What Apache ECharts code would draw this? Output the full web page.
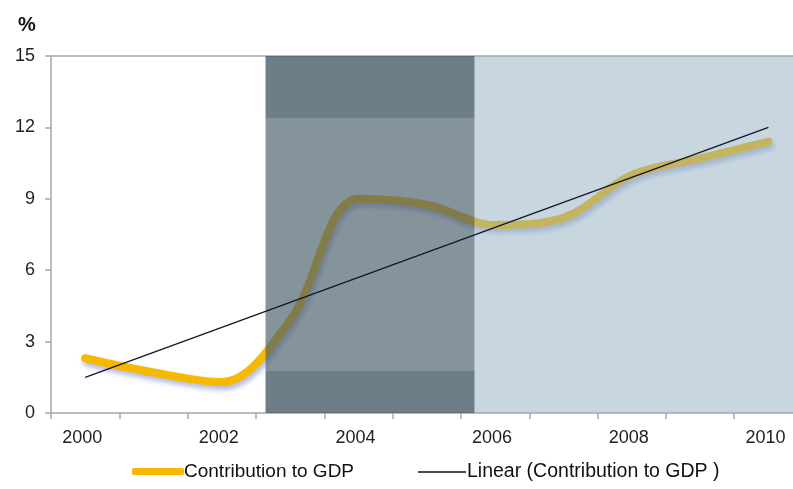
<!DOCTYPE html>
<html>
<head>
<meta charset="utf-8">
<script src="https://cdn.jsdelivr.net/npm/echarts@6/dist/echarts.min.js"></script>
<style>
html,body{margin:0;padding:0;background:#fff;}
#chart{width:793px;height:489px;}
</style>
</head>
<body>
<div id="chart"></div>
<script>
// ---- data ----
const years = ['2000','2001','2002','2003','2004','2005','2006','2007','2008','2009','2010'];
const contribution = [2.3, 1.7, 1.3, 3.9, 9.0, 8.75, 7.9, 8.2, 10.0, 10.7, 11.4];
const trendYears = [2000, 2010];
const trendValues = [1.5, 12.0];
const yTickValues = [0, 3, 6, 9, 12, 15];
const xLabelYears = ['2000', '2002', '2004', '2006', '2008', '2010'];
const seriesNames = ['Contribution to GDP', 'Linear (Contribution to GDP )'];
// shaded periods (in years) and band limits (in %)
const darkPeriod = [2002.64, 2005.70];
const lightPeriod = [2005.70, 2010.5];
const darkBands = [1.76, 12.4];
// visible part of the time axis (the right end of the original chart is cropped)
const xRange = [1999.5, 2010.36];

const FONT = '"Liberation Sans", Arial, sans-serif';
const chart = echarts.init(document.getElementById('chart'), null, {renderer: 'canvas'});

const yMin = yTickValues[0], yMax = yTickValues[yTickValues.length - 1];
const tickValues = years.map(y => +y - 0.5);

const option = {
  animation: false,
  backgroundColor: '#ffffff',
  title: {
    text: '%', left: 13, top: 10,
    textStyle: {fontFamily: FONT, fontSize: 20, fontWeight: 'bold', color: '#111'}
  },
  grid: {left: 51, top: 56, right: 0, bottom: 76, containLabel: false},
  legend: [
    {
      data: [{name: seriesNames[0], icon: 'roundRect', itemStyle: {color: '#f6b900'}}],
      left: 127, top: 457, itemWidth: 52, itemHeight: 7, selectedMode: false,
      textStyle: {fontFamily: FONT, fontSize: 19, color: '#111', padding: [0,0,0,-5]}
    },
    {
      data: [{name: seriesNames[1], icon: 'rect', itemStyle: {color: '#111'}}],
      left: 413, top: 457, itemWidth: 48, itemHeight: 1.4, selectedMode: false,
      textStyle: {fontFamily: FONT, fontSize: 19.5, color: '#111', padding: [0,0,0,-4]}
    }
  ],
  xAxis: [
    {
      type: 'value', min: xRange[0], max: xRange[1], position: 'bottom',
      axisLine: {show: true, onZero: false, lineStyle: {color: '#a8a8a8', width: 1.5}},
      axisTick: {show: true, customValues: tickValues, length: 6, lineStyle: {color: '#a8a8a8', width: 1.5}},
      axisLabel: {customValues: xLabelYears.map(Number), margin: 16, fontFamily: FONT, fontSize: 18, color: '#222',
        padding: [0, 6, 0, 0], formatter: v => String(v)},
      splitLine: {show: false}
    },
    {
      type: 'value', min: xRange[0], max: xRange[1], position: 'top',
      axisLine: {show: true, onZero: false, lineStyle: {color: '#a8a8a8', width: 1.5}},
      axisTick: {show: false}, axisLabel: {show: false}, splitLine: {show: false}
    }
  ],
  yAxis: {
    type: 'value', min: yMin, max: yMax, interval: 3,
    axisLine: {show: true, lineStyle: {color: '#a8a8a8', width: 1.5}},
    axisTick: {show: true, length: 6, lineStyle: {color: '#a8a8a8', width: 1.5}},
    axisLabel: {margin: 16, fontFamily: FONT, fontSize: 18, color: '#222'},
    splitLine: {show: false}
  },
  series: [
    {
      name: seriesNames[0], type: 'line', xAxisIndex: 0, z: 2,
      data: years.map((y, i) => [+y, contribution[i]]),
      smooth: 0.35, symbol: 'none', showSymbol: false,
      lineStyle: {color: '#f6b900', width: 8, cap: 'round', join: 'round',
        shadowColor: 'rgba(40,60,170,0.35)', shadowBlur: 5, shadowOffsetX: 2, shadowOffsetY: 4},
      itemStyle: {color: '#f6b900'}
    },
    {
      name: 'shading', type: 'line', xAxisIndex: 0, z: 5, data: [],
      markArea: {
        silent: true, z: 5,
        data: [
          [{xAxis: darkPeriod[0], yAxis: darkBands[0], itemStyle: {color: 'rgba(75,96,107,0.68)'}},
           {xAxis: darkPeriod[1], yAxis: darkBands[1]}],
          [{xAxis: darkPeriod[0], yAxis: darkBands[1], itemStyle: {color: 'rgba(61,83,96,0.75)'}},
           {xAxis: darkPeriod[1], yAxis: yMax}],
          [{xAxis: darkPeriod[0], yAxis: yMin, itemStyle: {color: 'rgba(61,83,96,0.75)'}},
           {xAxis: darkPeriod[1], yAxis: darkBands[0]}],
          [{xAxis: lightPeriod[0], yAxis: yMin, itemStyle: {color: 'rgba(146,176,192,0.5)'}},
           {xAxis: lightPeriod[1], yAxis: yMax}]
        ]
      }
    },
    {
      name: seriesNames[1], type: 'line', xAxisIndex: 0, z: 8,
      data: trendYears.map((y, i) => [y, trendValues[i]]),
      symbol: 'none', showSymbol: false,
      lineStyle: {color: '#15152a', width: 1.3},
      itemStyle: {color: '#111'}
    }
  ]
};
chart.setOption(option);
</script>
</body>
</html>
